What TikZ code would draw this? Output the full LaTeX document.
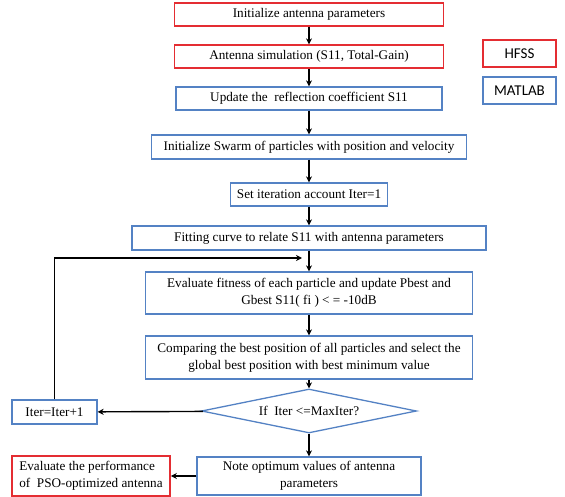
\documentclass[tikz,border=0pt]{standalone}
\usepackage{fontspec}
\setmainfont{Liberation Serif}
\newfontfamily\calib{Carlito}
\usetikzlibrary{shapes.geometric,arrows.meta}
\definecolor{bred}{RGB}{228,45,50}
\definecolor{bblue}{RGB}{84,130,196}
\tikzset{
  box/.style={draw=bblue,line width=1.3pt,fill=white,inner sep=0pt,align=center,
    font=\fontsize{13.2}{17}\selectfont},
  rbox/.style={box,draw=bred},
  arr/.style={line width=1.4pt,-{Stealth[length=6pt,width=6pt]}},
}
\begin{document}
\begin{tikzpicture}[x=1pt,y=-1pt]
\useasboundingbox (0,0) rectangle (565,497);
\node[rbox,minimum width=269,minimum height=23] (b1) at (309,14.5) {Initialize antenna parameters};
\node[rbox,minimum width=269,minimum height=23] (b2) at (309,56.5) {Antenna simulation (S11, Total-Gain)};
\node[box,minimum width=266,minimum height=23] (b3) at (309,98.5) {Update the\ \ reflection coefficient S11};
\node[rbox,line width=1.6pt,minimum width=73,minimum height=27,font=\calib\fontsize{15}{17}\selectfont] (hfss) at (519.5,53.5) {HFSS};
\node[box,minimum width=73,minimum height=27,font=\calib\fontsize{15}{17}\selectfont] (matlab) at (519.5,90.5) {MATLAB};
\node[box,minimum width=315,minimum height=24] (b4) at (309,147) {Initialize Swarm of particles with position and velocity};
\node[box,minimum width=157,minimum height=23] (b5) at (309,194.5) {Set iteration account Iter=1};
\node[box,minimum width=354,minimum height=24] (b6) at (309,238) {Fitting curve to relate S11 with antenna parameters};
\node[box,minimum width=327,minimum height=42] (b7) at (309,293) {Evaluate fitness of each particle and update Pbest and\\Gbest S11( fi ) < = -10dB};
\node[box,minimum width=327,minimum height=43] (b8) at (309,357.5) {Comparing the best position of all particles and select the\\global best position with best minimum value};
\node[box,shape=diamond,aspect=4.9,minimum width=215,minimum height=44] (d) at (309,411) {If\ \ Iter <=MaxIter?};
\node[box,minimum width=85,minimum height=24] (iter) at (54.5,412) {Iter=Iter+1};
\node[box,minimum width=224,minimum height=38] (note) at (309,476) {Note optimum values of antenna\\parameters};
\node[rbox,line width=1.6pt,minimum width=158,minimum height=40,align=left] (eval) at (91,476) {Evaluate the performance\\of\ \ PSO-optimized antenna};
\coordinate (loopend) at (302,258);
\draw[arr] (b1) -- (b2);
\draw[arr] (b2) -- (b3);
\draw[arr] (b3) -- (b4);
\draw[arr] (b4) -- (b5);
\draw[arr] (b5) -- (b6);
\draw[arr] (b6) -- (b7);
\draw[arr] (b7) -- (b8);
\draw[arr] (b8) -- (d);
\draw[arr] (d) -- (note);
\draw[arr] (d) -- (iter);
\draw[arr] (note) -- (eval);
\draw[arr] (iter.north) |- (loopend);
\end{tikzpicture}
\end{document}
